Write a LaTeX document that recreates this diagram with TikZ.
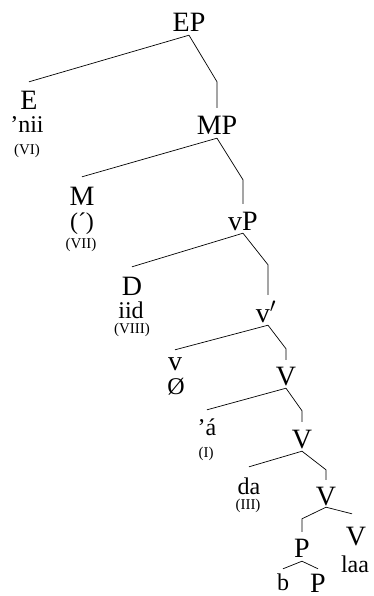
\documentclass[tikz,border=0pt]{standalone}
\usepackage{fontspec}
\setmainfont{Liberation Serif}
\usepackage{tikz}
\usetikzlibrary{positioning, calc}

\begin{document}
\begin{tikzpicture}[x=1pt, y=-1pt,
  cat/.style={font=\fontsize{28}{28}\selectfont, inner sep=0pt, text height=19pt, text depth=0pt, anchor=base},
  lex/.style={font=\fontsize{24}{24}\selectfont, inner sep=0pt, text height=17pt, anchor=base},
  num/.style={font=\fontsize{15}{15}\selectfont, inner sep=0pt, anchor=base},
  branch/.style={line width=0.7pt}]
\useasboundingbox (0,0) rectangle (374,596);
% EP level
\node[cat] (EP) at (189,32) {EP};
\node[cat] (E) at (29,110) {E};
\node[lex] (nii) at (27,133) {’nii};
\node[num] (VI) at (27,154) {(VI)};
\node[cat] (MP) at (217,135) {MP};
% MP level
\node[cat] (M) at (82,205) {M};
\node[lex] (acute) at (82,229) {(´)};
\node[num] (VII) at (81,248) {(VII)};
\node[cat] (vP) at (243,230) {vP};
% vP level
\node[cat] (D) at (132,295) {D};
\node[lex] (iid) at (131,318) {iid};
\node[num] (VIII) at (132,333) {(VIII)};
\node[cat] (vbar) at (266,322) {v$'$};
% v' level
\node[cat] (v) at (175,370) {v};
\node[lex] (null) at (176,394) {Ø};
\node[cat] (V2) at (286,385) {V};
% lower V levels
\node[lex] (a) at (207,435) {’á};
\node[num] (I) at (206,457) {(I)};
\node[cat] (V3) at (302,448) {V};
\node[lex] (da) at (249,494) {da};
\node[num] (III) at (248,509) {(III)};
\node[cat] (V4) at (326,505) {V};
% bottom: P and V
\node[cat] (P) at (302,557) {P};
\node[cat] (V5) at (356,545) {V};
\node[lex] (laa) at (355,572) {laa};
\node[lex] (b) at (283,590) {b};
\node[cat] (P2) at (318,592) {P};
% Branches
\draw[branch] ([yshift=-3pt]EP.south) -- ([yshift=9pt]E.north);
\draw[branch] ([yshift=-3pt]EP.south) -- ([yshift=34pt]MP.north) -- ([yshift=8pt]MP.north);
\draw[branch] ([yshift=-3pt]MP.south) -- ([yshift=9pt]M.north);
\draw[branch] ([yshift=-3pt]MP.south) -- ([yshift=31pt]vP.north) -- ([yshift=7pt]vP.north);
\draw[branch] ([yshift=-3pt]vP.south) -- ([yshift=9pt]D.north);
\draw[branch] ([yshift=-3pt]vP.south) -- ([xshift=2pt,yshift=38pt]vbar.north) -- ([xshift=2pt,yshift=8pt]vbar.north);
\draw[branch] ([xshift=2pt,yshift=-3pt]vbar.south) -- ([yshift=1pt]v.north);
\draw[branch] ([xshift=2pt,yshift=-3pt]vbar.south) -- ([yshift=17pt]V2.north) -- ([yshift=6pt]V2.north);
\draw[branch] ([yshift=-3pt]V2.south) -- ([yshift=8pt]a.north);
\draw[branch] ([yshift=-3pt]V2.south) -- ([yshift=18pt]V3.north) -- ([yshift=7pt]V3.north);
\draw[branch] ([yshift=-3pt]V3.south) -- ([yshift=10pt]da.north);
\draw[branch] ([yshift=-3pt]V3.south) -- ([yshift=16pt]V4.north) -- ([yshift=6pt]V4.north);
\draw[branch] ([yshift=-2pt]V4.south) -- ([yshift=19pt]P.north) -- ([yshift=6pt]P.north);
\draw[branch] ([yshift=-2pt]V4.south) -- ([xshift=-4pt,yshift=12pt]V5.north);
\draw[branch] ([yshift=-4pt]P.south) -- ([yshift=4pt]b.north);
\draw[branch] ([yshift=-4pt]P.south) -- ([yshift=4pt]P2.north);
\end{tikzpicture}
\end{document}
